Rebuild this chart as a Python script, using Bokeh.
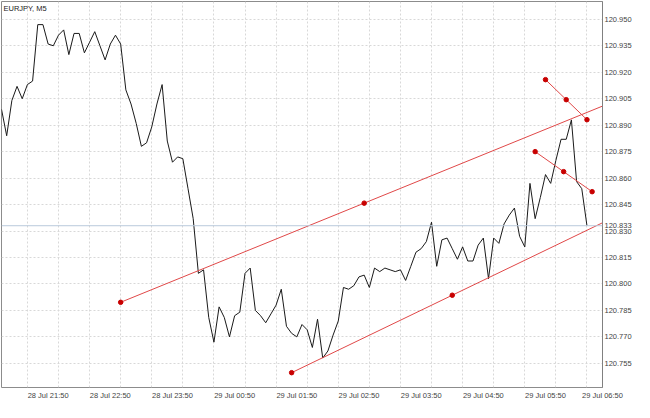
from bokeh.plotting import figure
from bokeh.models import FixedTicker, Label, Span, Range1d, PrintfTickFormatter, ColumnDataSource
from bokeh.embed import file_html
from bokeh.resources import INLINE

# ---- data ----
symbol_title = "EURJPY, M5"
prices = [120.899, 120.884, 120.904, 120.912, 120.905, 120.913, 120.915, 120.947, 120.947, 120.936,
          120.935, 120.941, 120.944, 120.930, 120.942, 120.942, 120.931, 120.937, 120.943, 120.935,
          120.927, 120.936, 120.941, 120.936, 120.910, 120.902, 120.891, 120.878, 120.880, 120.889,
          120.902, 120.913, 120.881, 120.869, 120.872, 120.871, 120.854, 120.837, 120.806, 120.808,
          120.781, 120.767, 120.787, 120.781, 120.770, 120.782, 120.784, 120.806, 120.809, 120.785,
          120.782, 120.778, 120.783, 120.788, 120.797, 120.776, 120.772, 120.770, 120.777, 120.774,
          120.764, 120.780, 120.758, 120.762, 120.771, 120.779, 120.798, 120.797, 120.799, 120.804,
          120.805, 120.798, 120.809, 120.807, 120.809, 120.808, 120.807, 120.808, 120.802, 120.810,
          120.818, 120.820, 120.824, 120.835, 120.810, 120.825, 120.826, 120.820, 120.814, 120.821,
          120.813, 120.813, 120.822, 120.826, 120.803, 120.826, 120.823, 120.834, 120.839, 120.843,
          120.827, 120.821, 120.857, 120.837, 120.849, 120.862, 120.857, 120.870, 120.882, 120.882,
          120.893, 120.858, 120.854, 120.833]
bars = list(range(len(prices)))          # 5-minute bars from 28 Jul 21:25
current_price = 120.833

time_tick_bars = [5, 17, 29, 41, 53, 65, 77, 89, 101, 113]
time_tick_labels = ["28 Jul 21:50", "28 Jul 22:50", "28 Jul 23:50", "29 Jul 00:50", "29 Jul 01:50",
                    "29 Jul 02:50", "29 Jul 03:50", "29 Jul 04:50", "29 Jul 05:50", "29 Jul 06:50"]
grid_bars = [5, 11, 17, 23, 29, 35, 41, 47, 53, 59, 65, 71, 77, 83, 89, 95, 101, 107, 113]
price_ticks = [120.755, 120.770, 120.785, 120.800, 120.815, 120.830, 120.845,
               120.860, 120.875, 120.890, 120.905, 120.920, 120.935, 120.950]

# trend lines (start bar/price, end bar/price)
tl_x0 = [23, 56, 105, 103]
tl_y0 = [120.7896, 120.7497, 120.9158, 120.8750]
tl_x1 = [117, 118, 113, 114]
tl_y1 = [120.9020, 120.8375, 120.8931, 120.8523]

x_lo, x_hi = 0, 116
y_lo, y_hi = 120.7413, 120.9601

FONT = "Liberation Sans"
FS = "7.5px"
W, H = 634, 402
LABEL_SHIFT = 4   # time labels start at their tick (left aligned), as in the original

p = figure(width=W, height=H, output_backend="svg", toolbar_location=None,
           x_range=Range1d(x_lo, x_hi), y_range=Range1d(y_lo, y_hi),
           y_axis_location="right",
           min_border_left=1, min_border_top=1, min_border_bottom=14, min_border_right=0)
p.background_fill_color = "white"
p.border_fill_color = "white"
p.outline_line_color = "#8c8c8c"
p.outline_line_width = 1

# x axis: labels placed at tick + shift, so they read left-aligned at the tick
xa = p.xaxis[0]
shifted = [min(b + LABEL_SHIFT, x_hi) for b in time_tick_bars]
xa.ticker = FixedTicker(ticks=shifted)
xa.major_label_overrides = {s: t for s, t in zip(shifted, time_tick_labels)}
xa.axis_line_color = None
xa.major_tick_line_color = None
xa.minor_tick_line_color = None
xa.major_tick_out = 0
xa.major_tick_in = 0
xa.major_label_standoff = 3
xa.axis_label_standoff = 0
xa.major_label_text_font = FONT
xa.major_label_text_font_size = FS
xa.major_label_text_color = "#444444"

# price scale, with the current price shown on it as well
ya = p.yaxis[0]
ya.ticker = FixedTicker(ticks=price_ticks + [current_price])
ya.formatter = PrintfTickFormatter(format="%.3f")
ya.axis_line_color = "#808080"
ya.major_tick_line_color = None
ya.minor_tick_line_color = None
ya.major_tick_out = 0
ya.major_tick_in = 0
ya.major_label_standoff = 2
ya.axis_label_standoff = 0
ya.major_label_text_font = FONT
ya.major_label_text_font_size = FS
ya.major_label_text_color = "#444444"

# grids
p.xgrid.ticker = FixedTicker(ticks=grid_bars)
p.ygrid.ticker = FixedTicker(ticks=price_ticks)
for g in (p.xgrid[0], p.ygrid[0]):
    g.grid_line_color = "#d8d8d8"
    g.grid_line_dash = "2 2"
    g.grid_line_width = 1

# current price line
p.add_layout(Span(location=current_price, dimension="width", line_color="#b9c9dc", line_width=1))

# price line
p.line(bars, prices, line_color="#1a1a1a", line_width=1)

# trend lines
src = ColumnDataSource(dict(x0=tl_x0, y0=tl_y0, x1=tl_x1, y1=tl_y1))
p.segment("x0", "y0", "x1", "y1", source=src, line_color="#e04848", line_width=1)
dot_x = tl_x0 + [(a + b) / 2 for a, b in zip(tl_x0, tl_x1)] + tl_x1
dot_y = tl_y0 + [(a + b) / 2 for a, b in zip(tl_y0, tl_y1)] + tl_y1
p.scatter(dot_x, dot_y, size=4.5, fill_color="#c80000", line_color="#c80000")

# title
p.add_layout(Label(x=x_lo, y=y_hi, x_offset=2, y_offset=-2, text=symbol_title,
                   text_font=FONT, text_font_size=FS, text_color="#222222",
                   text_align="left", text_baseline="top"))

open("out.html", "w").write(file_html(p, INLINE))
